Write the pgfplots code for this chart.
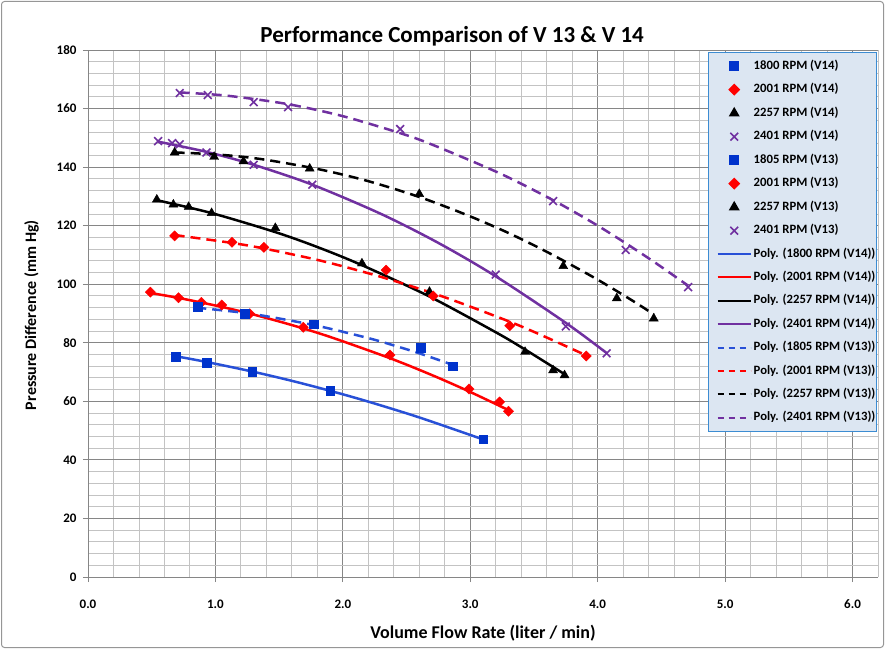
\documentclass[border=0pt]{standalone}
\usepackage{fontspec}
\setmainfont{Carlito}
\usepackage{pgfplots}
\pgfplotsset{compat=1.18}

\definecolor{serblue}{RGB}{0,51,204}
\definecolor{lineblue}{RGB}{40,80,215}
\definecolor{serred}{RGB}{255,0,0}
\definecolor{serpurple}{RGB}{112,48,160}
\definecolor{legfill}{RGB}{220,230,242}
\definecolor{legborder}{RGB}{60,140,210}
\definecolor{gridmajor}{RGB}{134,134,134}
\definecolor{gridminor}{RGB}{195,195,195}
\definecolor{framegray}{RGB}{150,150,150}

\pgfplotsset{
  markkey/.style={legend image code/.code={%
      \path[draw=none, fill=none] (-8pt,-4pt) rectangle (33pt,4pt);
      \draw[##1] plot coordinates {(16.5pt,0pt)};}},
  linekey/.style={legend image code/.code={%
      \path[draw=none, fill=none] (-8pt,-4pt) rectangle (33pt,4pt);
      \draw[##1] (0pt,0pt) -- (33pt,0pt);}},
  sq/.style={only marks, mark=square*, mark size=4.3pt, color=serblue},
  dm/.style={only marks, mark=square*, mark size=3.6pt, mark options={rotate=45}, color=serred},
  tr/.style={only marks, mark=triangle*, mark size=5.2pt, color=black},
  cr/.style={only marks, mark=x, mark size=5.5pt, mark options={line width=1.6pt}, color=serpurple},
  trend/.style={no marks, smooth, line width=2.5pt},
  dashtrend/.style={no marks, smooth, line width=2.5pt, dash pattern=on 10pt off 6pt},
  keyline/.style={no marks, line width=2pt, linekey},
  keydash/.style={no marks, line width=2pt, dash pattern=on 6pt off 5pt, linekey},
}

\begin{document}
\begin{tikzpicture}[x=1pt,y=1pt]
\useasboundingbox (0,0) rectangle (885,649);
\draw[framegray, line width=1pt, rounded corners=3pt] (1.5,1.5) rectangle (883.5,647.5);
\begin{axis}[
  at={(88pt,72pt)}, anchor=south west,
  scale only axis, width=790pt, height=527pt,
  xmin=0, xmax=6.2, ymin=0, ymax=180,
  xtick={0,1,2,3,4,5,6},
  ytick={0,20,40,60,80,100,120,140,160,180},
  minor xtick={0.2,0.4,0.6,0.8,1.2,1.4,1.6,1.8,2.2,2.4,2.6,2.8,3.2,3.4,3.6,3.8,4.2,4.4,4.6,4.8,5.2,5.4,5.6,5.8,6.2},
  minor ytick={4,8,12,16,24,28,32,36,44,48,52,56,64,68,72,76,84,88,92,96,104,108,112,116,124,128,132,136,144,148,152,156,164,168,172,176},
  grid=both,
  major grid style={gridmajor, line width=0.9pt},
  minor grid style={gridminor, line width=0.9pt},
  axis x line*=bottom, axis y line*=left,
  axis line style={gridmajor, line width=0.9pt, -},
  tick align=outside, major tick length=5pt, minor tick length=0pt,
  tick style={gridmajor, line width=0.9pt},
  /pgf/number format/assume math mode=true,
  xticklabel={\pgfmathprintnumber[fixed, fixed zerofill, precision=1]{\tick}},
  x tick label style={font=\fontsize{13}{13}\selectfont\bfseries, anchor=north, yshift=-14pt},
  y tick label style={font=\fontsize{13}{13}\selectfont\bfseries, anchor=east, xshift=-3pt},
  title={Performance Comparison of V 13 \& V 14},
  title style={at={(0.461,1)}, anchor=base, yshift=1pt, font=\fontsize{23}{23}\selectfont\bfseries},
  xlabel={Volume Flow Rate (liter / min)},
  xlabel style={at={(0.5,0)}, anchor=base, yshift=-61pt, font=\fontsize{18}{18}\selectfont\bfseries},
  ylabel={Pressure Difference (mm Hg)},
  ylabel style={at={(-0.0658,0.497)}, anchor=base, font=\fontsize{16}{16}\selectfont\bfseries},
  legend style={at={(1,1)}, anchor=north east, xshift=-1pt, yshift=-2pt,
    draw=legborder, line width=1.2pt, fill=legfill,
    font=\fontsize{12.7}{13}\selectfont\bfseries,
    nodes={inner sep=0pt, text height=8pt, text depth=2pt},
    inner xsep=1pt, inner ysep=8.5pt, column sep=2pt, row sep=13.4pt},
  legend cell align=left,
]
% trend lines (second-order polynomial fits)
\addplot[trend, lineblue, forget plot] coordinates {(0.69,75.4)(0.93,73.45)(1.29,70.17)(1.6,67.0)(1.9,63.6)(2.2,59.9)(2.6,54.5)(3.1,47.0)};
\addplot[trend, serred, forget plot] coordinates {(0.49,97.0)(0.71,95.33)(1.05,92.26)(1.3,89.63)(1.6,86.05)(1.9,82.0)(2.37,74.73)(2.7,68.95)(2.99,63.4)(3.3,57.0)};
\addplot[trend, black, forget plot] coordinates {(0.54,128.7)(0.97,124.3)(1.47,117.8)(1.8,112.7)(2.15,106.5)(2.68,95.8)(3.2,83.6)(3.43,77.7)(3.75,69.0)};
\addplot[trend, serpurple, forget plot] coordinates {(0.55,148.7)(0.93,145.2)(1.3,140.8)(1.76,134.0)(2.3,124.0)(2.75,114.1)(3.2,102.7)(3.75,86.8)(4.07,76.5)};
\addplot[dashtrend, lineblue, forget plot] coordinates {(0.85,92.0)(1.23,90.2)(1.5,88.3)(1.82,85.6)(2.2,81.6)(2.4,79.1)(2.6,76.4)(2.86,72.5)};
\addplot[dashtrend, serred, forget plot] coordinates {(0.68,116.8)(1.13,114.1)(1.38,112.2)(1.83,108.0)(2.3,102.5)(2.79,95.7)(3.31,87.2)(3.6,81.8)(3.92,75.5)};
\addplot[dashtrend, black, forget plot] coordinates {(0.68,145.0)(0.85,144.7)(1.1,144.0)(1.38,142.6)(1.82,139.2)(2.2,135.2)(2.6,129.8)(2.97,123.7)(3.3,117.5)(3.63,110.4)(3.99,101.8)(4.28,94.2)(4.44,89.7)};
\addplot[dashtrend, serpurple, forget plot] coordinates {(0.72,165.5)(1.09,164.4)(1.57,161.5)(2.0,157.4)(2.45,151.6)(2.7,147.7)(3.23,137.9)(3.65,128.7)(3.97,120.8)(4.22,114.0)(4.45,107.4)(4.71,99.5)};
% measured points, V14
\addplot[sq, forget plot] coordinates {(0.69,75.3)(0.93,73.2)(1.29,70.2)(1.90,63.6)(3.10,47.0)};
\addplot[dm, forget plot] coordinates {(0.49,97.3)(0.71,95.4)(0.89,93.8)(1.05,92.9)(1.27,89.9)(1.69,85.3)(2.37,75.8)(2.99,64.2)(3.23,59.8)(3.30,56.6)};
\addplot[tr, forget plot] coordinates {(0.54,128.9)(0.67,127.2)(0.79,126.4)(0.97,124.3)(1.47,119.2)(2.15,107.1)(2.68,97.4)(3.43,76.9)(3.65,70.6)(3.74,68.9)};
\addplot[cr, forget plot] coordinates {(0.55,148.9)(0.66,148.2)(0.72,147.8)(0.93,145.0)(1.30,140.8)(1.76,134.0)(3.20,103.3)(3.75,85.6)(4.07,76.4)};
% measured points, V13
\addplot[sq, forget plot] coordinates {(0.86,92.3)(1.23,90.0)(1.77,86.3)(2.61,78.3)(2.86,72.0)};
\addplot[dm, forget plot] coordinates {(0.68,116.5)(1.13,114.3)(1.38,112.6)(2.34,104.8)(2.71,96.0)(3.31,85.8)(3.91,75.5)};
\addplot[tr, forget plot] coordinates {(0.68,145.0)(0.99,143.5)(1.22,142.0)(1.74,139.5)(2.60,130.8)(3.73,106.2)(4.15,95.2)(4.44,88.3)};
\addplot[cr, forget plot] coordinates {(0.72,165.3)(0.94,164.6)(1.30,162.2)(1.57,160.5)(2.45,153.0)(3.65,128.4)(4.22,111.7)(4.71,99.0)};
% legend
\addlegendimage{sq, markkey}
\addlegendentry{1800 RPM (V14)}
\addlegendimage{dm, markkey}
\addlegendentry{2001 RPM (V14)}
\addlegendimage{tr, markkey}
\addlegendentry{2257 RPM (V14)}
\addlegendimage{cr, markkey}
\addlegendentry{2401 RPM (V14)}
\addlegendimage{sq, markkey}
\addlegendentry{1805 RPM (V13)}
\addlegendimage{dm, markkey}
\addlegendentry{2001 RPM (V13)}
\addlegendimage{tr, markkey}
\addlegendentry{2257 RPM (V13)}
\addlegendimage{cr, markkey}
\addlegendentry{2401 RPM (V13)}
\addlegendimage{keyline, lineblue}
\addlegendentry{Poly. (1800 RPM (V14))}
\addlegendimage{keyline, serred}
\addlegendentry{Poly. (2001 RPM (V14))}
\addlegendimage{keyline, black}
\addlegendentry{Poly. (2257 RPM (V14))}
\addlegendimage{keyline, serpurple}
\addlegendentry{Poly. (2401 RPM (V14))}
\addlegendimage{keydash, lineblue}
\addlegendentry{Poly. (1805 RPM (V13))}
\addlegendimage{keydash, serred}
\addlegendentry{Poly. (2001 RPM (V13))}
\addlegendimage{keydash, black}
\addlegendentry{Poly. (2257 RPM (V13))}
\addlegendimage{keydash, serpurple}
\addlegendentry{Poly. (2401 RPM (V13))}
\end{axis}
\end{tikzpicture}
\end{document}
